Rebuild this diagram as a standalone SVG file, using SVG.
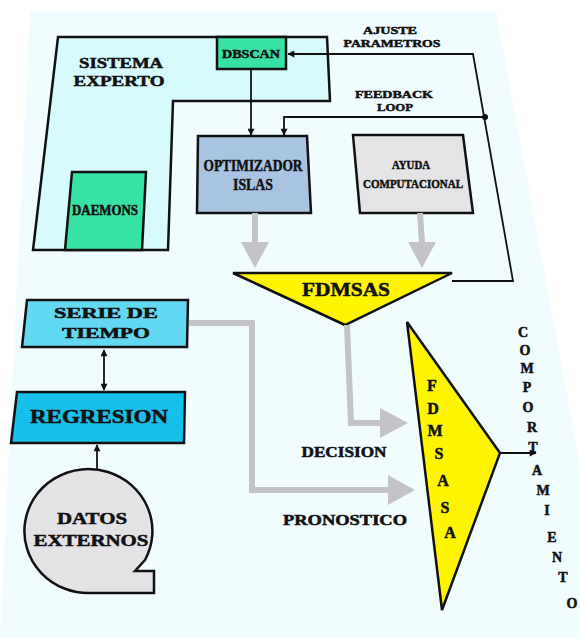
<svg xmlns="http://www.w3.org/2000/svg" width="580" height="638" viewBox="0 0 580 638">
<defs>
<style>
.t{font-family:"Liberation Serif","DejaVu Serif",serif;font-weight:bold;fill:#111;stroke:#111;stroke-width:0.5;text-anchor:middle}
.b{stroke:#111;stroke-width:2.5;stroke-linejoin:miter}
.ln{fill:none;stroke:#111;stroke-width:1.8}
.g{fill:none;stroke:#c3c3c8;stroke-width:6}
.gh{fill:#c3c3c8}
</style>
<marker id="ah" viewBox="0 0 10 10" refX="9" refY="5" markerWidth="8" markerHeight="7" orient="auto-start-reverse" markerUnits="userSpaceOnUse">
<path d="M0,0 L10,5 L0,10 z" fill="#111"/>
</marker>
</defs>
<rect x="0" y="0" width="580" height="638" fill="#ffffff"/>
<polygon points="30,11 496,11 612,638 0,638" fill="#f1fcff"/>

<g id="sistema-experto">
<polygon class="b" points="58,37 327,37 330,101 173,101 168,250 33,250" fill="#d7fbfd"/>
<text class="t" x="121" y="68" font-size="15" textLength="84" lengthAdjust="spacingAndGlyphs">SISTEMA</text>
<text class="t" x="119" y="86" font-size="15" textLength="91" lengthAdjust="spacingAndGlyphs">EXPERTO</text>
</g>
<g id="dbscan">
<rect class="b" x="217" y="37" width="69" height="32" fill="#38e2a5"/>
<text class="t" x="251" y="58" font-size="13" textLength="58" lengthAdjust="spacingAndGlyphs">DBSCAN</text>
</g>
<g id="daemons">
<polygon class="b" points="72,172 146,172 142,250 65,250" fill="#38e2a5"/>
<text class="t" x="105" y="215" font-size="14" textLength="66" lengthAdjust="spacingAndGlyphs">DAEMONS</text>
</g>
<g id="optimizador">
<polygon class="b" points="198,136 307,136 311,213 197,213" fill="#a9c4e2"/>
<text class="t" x="253" y="171" font-size="17" textLength="99" lengthAdjust="spacingAndGlyphs">OPTIMIZADOR</text>
<text class="t" x="253" y="190" font-size="17" textLength="40" lengthAdjust="spacingAndGlyphs">ISLAS</text>
</g>
<g id="ayuda">
<polygon class="b" points="353,135 463,135 473,213 360,213" fill="#e4e4e6"/>
<text class="t" x="411" y="168.5" font-size="13" stroke-width="0.2" textLength="38" lengthAdjust="spacingAndGlyphs">AYUDA</text>
<text class="t" x="413" y="187.5" font-size="13" stroke-width="0.2" textLength="100" lengthAdjust="spacingAndGlyphs">COMPUTACIONAL</text>
</g>
<g id="fdmsas">
<polygon class="b" points="233,273 452,273 345,325" fill="#fff500"/>
<text class="t" x="346" y="296" font-size="19" textLength="88" lengthAdjust="spacingAndGlyphs">FDMSAS</text>
</g>
<g id="fdmsasa">
<polygon class="b" points="407,322 500,453 442,610" fill="#fff500"/>
<g class="t" font-size="16">
<text x="432" y="391">F</text>
<text x="433" y="414">D</text>
<text x="435" y="436">M</text>
<text x="439" y="459">S</text>
<text x="443" y="486">A</text>
<text x="445" y="513">S</text>
<text x="450" y="538">A</text>
</g>
</g>
<g id="serie-tiempo">
<polygon class="b" points="27,300 188,300 187,347 22,347" fill="#62d8f3"/>
<text class="t" x="106" y="318" font-size="15" textLength="104" lengthAdjust="spacingAndGlyphs">SERIE DE</text>
<text class="t" x="106" y="338" font-size="15" textLength="88" lengthAdjust="spacingAndGlyphs">TIEMPO</text>
</g>
<g id="regresion">
<polygon class="b" points="17,392 185,392 184,443 11,443" fill="#17bfeb"/>
<text class="t" x="99" y="423" font-size="18" textLength="138" lengthAdjust="spacingAndGlyphs">REGRESION</text>
</g>
<g id="datos-externos">
<path class="b" d="M145,560 A64,62 0 1 0 91,593 L154,593 L154,571 L135,571 Z" fill="#e3e3e5"/>
<text class="t" x="92" y="523.5" font-size="16" textLength="70" lengthAdjust="spacingAndGlyphs">DATOS</text>
<text class="t" x="91" y="545.5" font-size="16" textLength="115" lengthAdjust="spacingAndGlyphs">EXTERNOS</text>
</g>

<g id="connectors">
<line class="ln" x1="251" y1="69" x2="251" y2="135" marker-end="url(#ah)"/>
<polyline class="ln" points="452,281 513,281 473,54 288,54" marker-end="url(#ah)"/>
<polyline class="ln" points="485,117 284,117 284,135" marker-end="url(#ah)"/>
<circle cx="485" cy="117" r="3" fill="#111"/>
<line class="ln" x1="104" y1="350" x2="104" y2="390" marker-start="url(#ah)" marker-end="url(#ah)"/>
<line class="ln" x1="97" y1="470" x2="97" y2="445" marker-end="url(#ah)"/>
<line class="ln" x1="500" y1="453" x2="536" y2="453" marker-end="url(#ah)"/>

<line class="g" x1="255" y1="213" x2="255" y2="243"/>
<polygon class="gh" points="241,242 269,242 255,268"/>
<line class="g" x1="420" y1="213" x2="422" y2="243"/>
<polygon class="gh" points="408,242 436,242 422,268"/>
<polyline class="g" points="347,325 351,423 381,423"/>
<polygon class="gh" points="380,408 408,423 380,438"/>
<polyline class="g" points="189,323 252,323 252,490 389,490"/>
<polygon class="gh" points="388,475 415,490 388,505"/>
</g>

<g id="labels">
<text class="t" x="390" y="34" font-size="11" textLength="54" lengthAdjust="spacingAndGlyphs">AJUSTE</text>
<text class="t" x="392" y="46.5" font-size="11" textLength="97" lengthAdjust="spacingAndGlyphs">PARAMETROS</text>
<text class="t" x="394" y="98" font-size="11" textLength="78" lengthAdjust="spacingAndGlyphs">FEEDBACK</text>
<text class="t" x="395" y="111" font-size="11" textLength="36" lengthAdjust="spacingAndGlyphs">LOOP</text>
<text class="t" x="344" y="457" font-size="14" textLength="85" lengthAdjust="spacingAndGlyphs">DECISION</text>
<text class="t" x="345" y="525" font-size="14" textLength="124" lengthAdjust="spacingAndGlyphs">PRONOSTICO</text>
<g class="t" font-size="14">
<text x="523" y="337">C</text>
<text x="525" y="355">O</text>
<text x="527" y="373">M</text>
<text x="527" y="392">P</text>
<text x="528" y="412">O</text>
<text x="532" y="432">R</text>
<text x="533" y="452">T</text>
<text x="537" y="475">A</text>
<text x="543" y="495">M</text>
<text x="547" y="515">I</text>
<text x="552" y="542">E</text>
<text x="557" y="562">N</text>
<text x="563" y="582">T</text>
<text x="572" y="608">O</text>
</g>
</g>
</svg>
